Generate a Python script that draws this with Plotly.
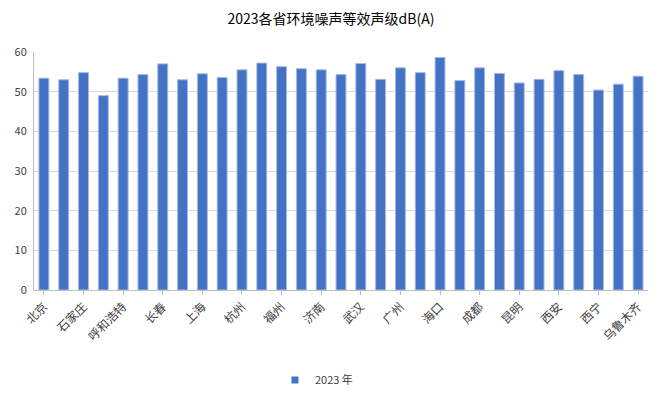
import plotly.graph_objects as go

cities = ["北京", "天津", "石家庄", "太原", "呼和浩特", "沈阳", "长春", "哈尔滨", "上海", "南京",
          "杭州", "合肥", "福州", "南昌", "济南", "郑州", "武汉", "长沙", "广州", "南宁",
          "海口", "重庆", "成都", "贵阳", "昆明", "拉萨", "西安", "兰州", "西宁", "银川", "乌鲁木齐"]
values_2023 = [53.4, 53.0, 54.8, 49.0, 53.4, 54.3, 57.0, 53.0, 54.5, 53.6,
               55.5, 57.2, 56.3, 55.8, 55.5, 54.3, 57.1, 53.1, 56.0, 54.8,
               58.6, 52.8, 56.0, 54.6, 52.2, 53.1, 55.3, 54.3, 50.4, 51.9, 53.9]
series_name = "2023 年"
title_text = "2023各省环境噪声等效声级dB(A)"
shown_labels = cities[::2]

font_family = "Noto Sans CJK SC, Noto Sans, sans-serif"
bar_color = "#4472C4"

fig = go.Figure()
fig.add_trace(go.Bar(
    x=cities, y=values_2023, name=series_name, showlegend=False,
    marker=dict(color=bar_color, line=dict(color="#a4b9e2", width=1)),
))
# legend entry with a small square swatch
fig.add_trace(go.Scatter(
    x=[None], y=[None], mode="markers", name=series_name,
    marker=dict(symbol="square", size=7, color=bar_color),
))

# page body has an 8px default margin, so the figure is 8px smaller
fig.update_layout(
    width=656, height=389,
    margin=dict(l=26, r=16, t=44, b=107, autoexpand=False),
    paper_bgcolor="white", plot_bgcolor="white",
    font=dict(family=font_family, size=11, color="#404040"),
    title=dict(text=title_text, x=0.4924, xref="container", xanchor="center",
               y=1 - 11 / 389, yref="container", yanchor="middle",
               font=dict(size=14, color="#000000", family=font_family)),
    bargap=0.5,
    showlegend=True,
    legend=dict(orientation="h", x=0.46, xanchor="center",
                yref="container", y=1 - 372 / 389, yanchor="middle",
                font=dict(size=11, color="#404040"), itemwidth=30),
)

fig.update_xaxes(
    tickmode="array", tickvals=shown_labels, ticktext=shown_labels,
    tickangle=-45, ticks="outside", ticklen=4, tickcolor="#bfbfbf",
    showline=True, linecolor="#bfbfbf", linewidth=1, automargin=False,
    tickfont=dict(size=12, color="#404040"),
)
fig.update_yaxes(
    range=[0, 60], dtick=10, showgrid=True, gridcolor="#d9d9d9",
    showline=True, linecolor="#bfbfbf", linewidth=1, automargin=False,
    zeroline=False, ticks="", ticklabelstandoff=4,
    tickfont=dict(size=11, color="#404040"),
)

fig.write_html("out.html")
